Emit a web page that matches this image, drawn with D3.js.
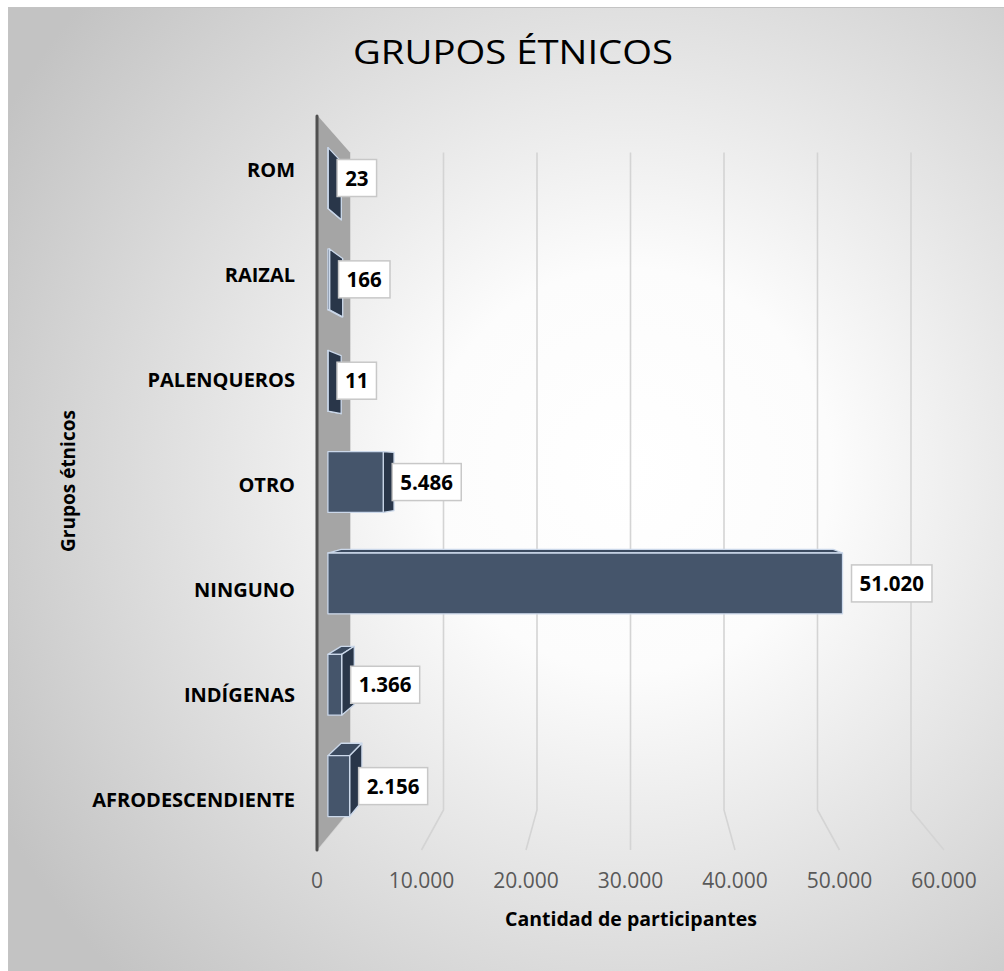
<!DOCTYPE html>
<html>
<head>
<meta charset="utf-8">
<script src="https://cdn.jsdelivr.net/npm/d3@7"></script>
<style>
  body { margin: 0; background: #fff; }
  svg { display: block; }
</style>
</head>
<body>
<svg id="svg"></svg>
<script>
'use strict';

// ================================= data ======================================
var categories = ["ROM", "RAIZAL", "PALENQUEROS", "OTRO", "NINGUNO", "INDÍGENAS", "AFRODESCENDIENTE"];
var values = [23, 166, 11, 5486, 51020, 1366, 2156];
var valueLabels = ["23", "166", "11", "5.486", "51.020", "1.366", "2.156"];
var tickValues = [0, 10000, 20000, 30000, 40000, 50000, 60000];
var tickLabels = ["0", "10.000", "20.000", "30.000", "40.000", "50.000", "60.000"];

var width = 1004;
var height = 971;

var svg = d3.select("#svg")
    .attr("width", width)
    .attr("height", height);

// front plane scales
var x = d3.scaleLinear().domain([0, 60000]).range([317, 944]);
var y = d3.scaleBand().domain(categories).range([115, 850]).paddingInner(0.4).paddingOuter(0.2);

// ================================= perspective ======================================
var VX = 630.5, VY = 470, K = 0.8947;
var Z0 = 0.33, Z1 = 0.73; // bar depth (0 = front, 1 = back wall)

function proj(px, py, z) {
    let s = 1 - z * (1 - K);
    return [VX + (px - VX) * s, VY + (py - VY) * s];
}

function poly(pts) {
    return "M" + pts.map(p => p[0].toFixed(2) + "," + p[1].toFixed(2)).join("L") + "Z";
}

// ================================= background ======================================
var defs = svg.append("defs");
var grad = defs.append("radialGradient")
    .attr("id", "bg")
    .attr("gradientUnits", "userSpaceOnUse")
    .attr("cx", 630).attr("cy", 470).attr("r", 720);
grad.append("stop").attr("offset", "0%").attr("stop-color", "#ffffff");
grad.append("stop").attr("offset", "28%").attr("stop-color", "#fcfcfc");
grad.append("stop").attr("offset", "100%").attr("stop-color", "#c3c3c3");

svg.append("rect")
    .attr("x", 8.5).attr("y", 7.5)
    .attr("width", width).attr("height", height)
    .attr("fill", "url(#bg)")
    .attr("stroke", "#c4c4c4")
    .attr("stroke-width", 1);

// ================================= gridlines ======================================
var grid = svg.append("g")
    .attr("stroke", "#d4d4d4")
    .attr("stroke-width", 1.6)
    .attr("fill", "none");

tickValues.forEach(t => {
    let top = proj(x(t), 115, 1);
    let bot = proj(x(t), 850, 1);
    let front = [x(t), 850];
    grid.append("path").attr("d", "M" + top + "L" + bot + "L" + front);
});

// side wall
var wTop = proj(x(0), 115, 1), wBot = proj(x(0), 850, 1);
svg.append("path")
    .attr("d", poly([[x(0), 115], wTop, wBot, [x(0), 850]]))
    .attr("fill", "#a5a5a5");
svg.append("line")
    .attr("x1", x(0)).attr("y1", 116)
    .attr("x2", x(0)).attr("y2", 850)
    .attr("stroke", "#505050")
    .attr("stroke-width", 3)
    .attr("stroke-linecap", "round");

// ================================= bars ======================================
var bars = svg.append("g")
    .attr("stroke", "#cbd8ea")
    .attr("stroke-width", 1.3)
    .attr("stroke-linejoin", "round");

categories.forEach((c, i) => {
    let x0 = x(0), x1 = x(values[i]);
    let y0 = y(c), y1 = y(c) + y.bandwidth();
    let g = bars.append("g");
    if (y1 < VY) {
        g.append("path").attr("fill", "#2e3c50")
            .attr("d", poly([proj(x0, y1, Z0), proj(x1, y1, Z0), proj(x1, y1, Z1), proj(x0, y1, Z1)]));
    }
    if (y0 > VY) {
        g.append("path").attr("fill", "#3b4a5f")
            .attr("d", poly([proj(x0, y0, Z0), proj(x1, y0, Z0), proj(x1, y0, Z1), proj(x0, y0, Z1)]));
    }
    if (x1 < VX) {
        g.append("path").attr("fill", "#293649")
            .attr("d", poly([proj(x1, y0, Z0), proj(x1, y0, Z1), proj(x1, y1, Z1), proj(x1, y1, Z0)]));
    }
    g.append("path").attr("fill", "#45556b")
        .attr("d", poly([proj(x0, y0, Z0), proj(x1, y0, Z0), proj(x1, y1, Z0), proj(x0, y1, Z0)]));
});

// ================================= value labels ======================================
var labels = svg.append("g");
categories.forEach((c, i) => {
    let end = proj(x(values[i]), y(c) + y.bandwidth() / 2, Z0);
    let lg = labels.append("g");
    let rect = lg.append("rect")
        .attr("fill", "#ffffff")
        .attr("stroke", "#c8c8c8")
        .attr("stroke-width", 1.5);
    let txt = lg.append("text")
        .attr("x", end[0] + 17)
        .attr("y", end[1] + 7.5)
        .attr("font-family", "Open Sans")
        .attr("font-weight", "bold")
        .attr("font-size", 20.5)
        .attr("fill", "#000")
        .text(valueLabels[i]);
    let bb = txt.node().getBBox();
    rect.attr("x", end[0] + 9).attr("y", end[1] - 18.5)
        .attr("width", bb.width + 16).attr("height", 37);
});

// ================================= axes text ======================================
svg.append("g")
    .selectAll("text")
    .data(categories)
    .join("text")
    .attr("x", 295)
    .attr("y", d => y(d) + y.bandwidth() / 2 + 9)
    .attr("text-anchor", "end")
    .attr("font-family", "Open Sans")
    .attr("font-weight", "bold")
    .attr("font-size", 20)
    .attr("fill", "#000")
    .text(d => d);

svg.append("g")
    .selectAll("text")
    .data(tickValues)
    .join("text")
    .attr("x", d => x(d))
    .attr("y", 888)
    .attr("text-anchor", "middle")
    .attr("font-family", "Open Sans")
    .attr("font-size", 21)
    .attr("fill", "#595959")
    .text((d, i) => tickLabels[i]);

svg.append("text")
    .attr("x", 631)
    .attr("y", 926)
    .attr("text-anchor", "middle")
    .attr("font-family", "Open Sans")
    .attr("font-weight", "bold")
    .attr("font-size", 19.5)
    .attr("fill", "#000")
    .text("Cantidad de participantes");

svg.append("text")
    .attr("transform", "translate(75,481) rotate(-90)")
    .attr("text-anchor", "middle")
    .attr("font-family", "Open Sans")
    .attr("font-weight", "bold")
    .attr("font-size", 19)
    .attr("fill", "#000")
    .text("Grupos étnicos");

svg.append("text")
    .attr("x", 353)
    .attr("y", 64)
    .attr("textLength", 320)
    .attr("lengthAdjust", "spacingAndGlyphs")
    .attr("font-family", "Open Sans")
    .attr("font-size", 33)
    .attr("fill", "#000")
    .text("GRUPOS ÉTNICOS");
</script>
</body>
</html>
